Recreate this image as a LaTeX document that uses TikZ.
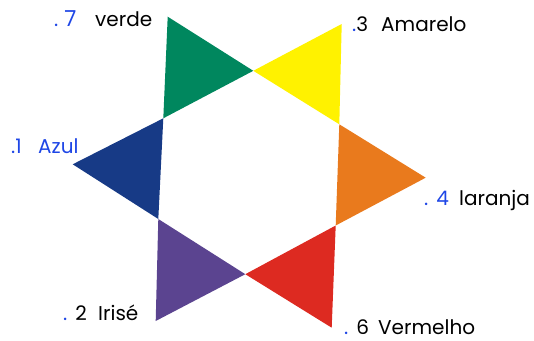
\documentclass[tikz,border=0pt]{standalone}
\usepackage{fontspec}
\setmainfont{Poppins}
\definecolor{cgreen}{RGB}{0,135,94}
\definecolor{cyellow}{RGB}{255,242,0}
\definecolor{corange}{RGB}{233,122,29}
\definecolor{cred}{RGB}{221,42,33}
\definecolor{cpurple}{RGB}{91,68,144}
\definecolor{cblue}{RGB}{23,58,134}
\definecolor{lblue}{RGB}{30,70,230}
\tikzset{lab/.style={anchor=base west,inner sep=0pt,font=\fontsize{20}{20}\selectfont},
         num/.style={lab,text=lblue}}
\begin{document}
\begin{tikzpicture}[x=1pt,y=-1pt]
\useasboundingbox (0,0) rectangle (534,340);
\coordinate (g1) at (167.7,16.7);
\coordinate (g2) at (253.3,70.8);
\coordinate (g3) at (163.3,118.3);
\coordinate (y1) at (341.7,24);
\coordinate (y2) at (339.3,124.3);
\coordinate (o1) at (425.7,177.7);
\coordinate (o2) at (335.7,225.5);
\coordinate (r1) at (331.7,327.7);
\coordinate (r2) at (245.3,274.2);
\coordinate (p1) at (155.7,321);
\coordinate (p2) at (158.3,219);
\coordinate (b1) at (72.7,164.3);
\fill[cgreen] (g1) -- (g2) -- (g3) -- cycle;
\fill[cyellow] (g2) -- (y1) -- (y2) -- cycle;
\fill[corange] (y2) -- (o1) -- (o2) -- cycle;
\fill[cred] (o2) -- (r1) -- (r2) -- cycle;
\fill[cpurple] (r2) -- (p1) -- (p2) -- cycle;
\fill[cblue] (p2) -- (b1) -- (g3) -- cycle;
\node[num] (n7) at (54,26) {.\hspace{6pt}{\fontsize{22}{22}\selectfont 7}};
\node[lab] (w7) at (95,26) {verde};
\node[num] (n3) at (352,31) {.\textcolor{black}{3}};
\node[lab] (w3) at (381,31) {Amarelo};
\node[num] (n1) at (11,153) {.1};
\node[num] (w1) at (38,153) {Azul};
\node[num] (n4) at (424,205) {.\hspace{8pt}4};
\node[lab] (w4) at (459,205) {laranja};
\node[num] (n2) at (63,320) {.\hspace{8pt}\textcolor{black}{2}};
\node[lab] (w2) at (98,320) {Irisé};
\node[num] (n6) at (344,334) {.\hspace{8pt}\textcolor{black}{6}};
\node[lab] (w6) at (378,334) {Vermelho};
\end{tikzpicture}
\end{document}
